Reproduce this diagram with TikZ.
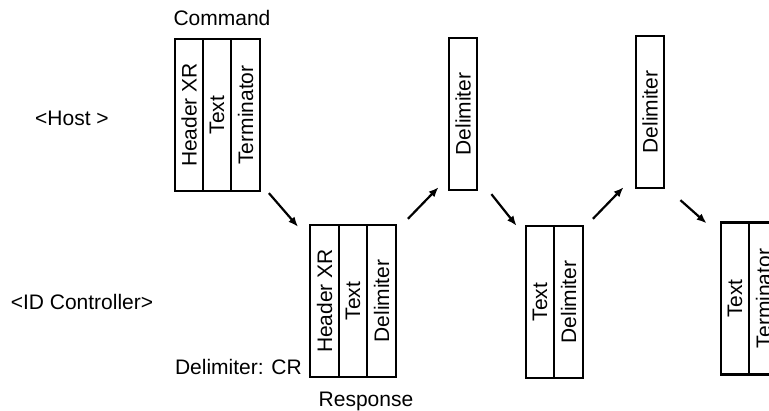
\documentclass[tikz,border=0pt]{standalone}
\usepackage{fontspec}
\setmainfont{Liberation Sans}
\usetikzlibrary{arrows.meta}
\begin{document}
\begin{tikzpicture}[x=1pt,y=-1pt,
  every node/.style={font=\fontsize{21}{25}\selectfont},
  cell/.style={draw, line width=2.3pt, inner sep=0pt, minimum width=28.5pt, minimum height=152pt, anchor=center},
  lbl/.style={inner sep=0pt, anchor=center},
  arr/.style={line width=2.2pt, -{Latex[length=10pt,width=8pt]}}]
\useasboundingbox (0,0) rectangle (769,411);
\clip (0,0) rectangle (769,411);
% labels
\node[lbl] (lcmd) at (222,18) {Command};
\node[lbl] (lhost) at (72,118) {<Host >};
\node[lbl] (lid) at (82,302) {<ID Controller>};
\node[lbl, anchor=east] (ldel) at (302,367) {Delimiter: CR};
\node[lbl] (lresp) at (366,401) {Response};
% command block
\node[cell] (c1) at (189,115) {\rotatebox{90}{Header XR}};
\node[cell] (c2) at (217,115) {\rotatebox{90}{Text}};
\node[cell] (c3) at (245.5,115) {\rotatebox{90}{Terminator}};
% response block
\node[cell] (r1) at (324.5,301) {\rotatebox{90}{Header XR}};
\node[cell] (r2) at (353,301) {\rotatebox{90}{Text}};
\node[cell] (r3) at (381.5,301) {\rotatebox{90}{Delimiter}};
% delimiter 1
\node[cell] (d1) at (463,114) {\rotatebox{90}{Delimiter}};
% text/delimiter block
\node[cell] (t1) at (540,302) {\rotatebox{90}{Text}};
\node[cell] (t2) at (568.5,302) {\rotatebox{90}{Delimiter}};
% delimiter 2
\node[cell] (d2) at (650,112) {\rotatebox{90}{Delimiter}};
% text/terminator block
\node[cell] (e1) at (735,298.5) {\rotatebox{90}{Text}};
\node[cell] (e2) at (763.5,298.5) {\rotatebox{90}{Terminator}};
% arrows
\draw[arr] ([shift={(8,1)}]c3.south east) -- ([shift={(-11,3)}]r1.north west);
\draw[arr] ([shift={(11,-5)}]r3.north east) -- ([shift={(-9,-4)}]d1.south west);
\draw[arr] ([shift={(13,3)}]d1.south east) -- ([shift={(-8,1)}]t1.north west);
\draw[arr] ([shift={(9,-6)}]t2.north east) -- ([shift={(-11,-2)}]d2.south west);
\draw[arr] ([shift={(15,11)}]d2.south east) -- ([shift={(-13,2)}]e1.north west);
\end{tikzpicture}
\end{document}
